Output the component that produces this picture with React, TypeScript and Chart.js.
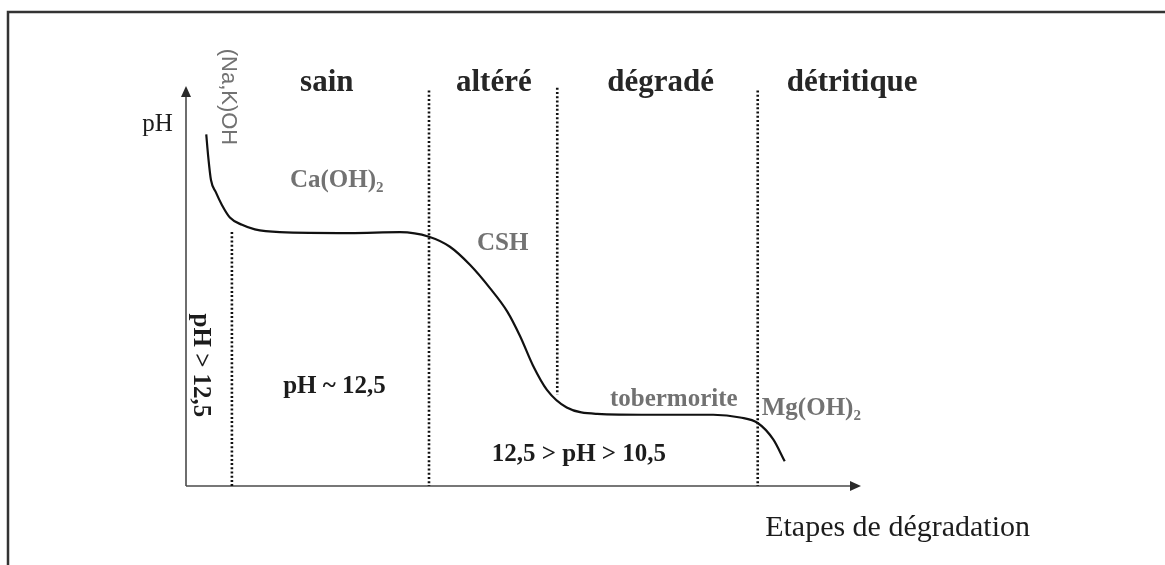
import React, { useEffect, useRef } from "react";
import { Chart, registerables } from "chart.js";

Chart.register(...registerables);

// Degradation stage axis (arbitrary units, 0..100) and pH of the pore solution
const stageX = [3.0, 3.3, 3.7, 4.4, 5.3, 6.5, 8.3, 10.2, 13.9, 24.3, 31.7, 36.0, 39.1, 42.1, 45.0, 47.6, 49.5, 51.4, 53.5, 56.4, 60.9, 68.7, 78.1, 82.1, 84.7, 87.0, 88.7];
const phValues = [13.57, 13.32, 13.07, 12.94, 12.8, 12.66, 12.58, 12.53, 12.5, 12.49, 12.5, 12.45, 12.34, 12.14, 11.89, 11.63, 11.36, 11.04, 10.77, 10.58, 10.51, 10.5, 10.5, 10.47, 10.41, 10.23, 9.99];

// Stage boundaries (dotted verticals): position, top and bottom pH
const boundaryX = [6.8, 36.0, 55.0, 84.7];
const boundaryTop = [12.5, 14.05, 14.08, 14.05];
const boundaryBottom = [9.72, 9.72, 10.72, 9.72];

// Stage names along the top
const stageNames = ["sain", "altéré", "dégradé", "détritique"];
const stageNameX = [16.9, 40.0, 62.4, 89.0];

const X_MIN = 0;
const X_MAX = 100;
const Y_MIN = 9.72;
const Y_MAX = 14.1;

const SERIF = '"Liberation Serif", "Times New Roman", serif';
const SANS = '"Liberation Sans", Arial, sans-serif';
const BLACK = "#1c1c1c";
const GREY = "#727272";

type Label = {
  text: string;
  sub?: string;
  x: number;
  y: number;
  font: string;
  color: string;
  rotate?: boolean;
};

const labels: Label[] = [
  { text: "pH", x: -6.5, y: 13.61, font: `25px ${SERIF}`, color: BLACK },
  { text: "(Na,K)OH", x: 6.2, y: 13.98, font: `22px ${SANS}`, color: GREY, rotate: true },
  { text: "Ca(OH)", sub: "2", x: 15.4, y: 12.99, font: `bold 25px ${SERIF}`, color: GREY },
  { text: "CSH", x: 43.1, y: 12.3, font: `bold 25px ${SERIF}`, color: GREY },
  { text: "tobermorite", x: 62.8, y: 10.6, font: `bold 25px ${SERIF}`, color: GREY },
  { text: "Mg(OH)", sub: "2", x: 85.3, y: 10.5, font: `bold 25px ${SERIF}`, color: GREY },
  { text: "pH > 12,5", x: 2.2, y: 11.04, font: `bold 25px ${SERIF}`, color: BLACK, rotate: true },
  { text: "pH ~ 12,5", x: 14.4, y: 10.74, font: `bold 25px ${SERIF}`, color: BLACK },
  { text: "12,5 > pH > 10,5", x: 45.3, y: 9.99, font: `bold 25px ${SERIF}`, color: BLACK },
  { text: "Etapes de dégradation", x: 85.8, y: 9.17, font: `30px ${SERIF}`, color: BLACK },
];

const decorPlugin = {
  id: "decor",
  beforeDraw(chart: any) {
    const { ctx, width, height } = chart;
    ctx.save();
    ctx.fillStyle = "#ffffff";
    ctx.fillRect(0, 0, width, height);
    // outer frame (top and left edges)
    ctx.strokeStyle = "#333333";
    ctx.lineWidth = 2.5;
    ctx.beginPath();
    ctx.moveTo(width, 12);
    ctx.lineTo(8, 12);
    ctx.lineTo(8, height);
    ctx.stroke();
    ctx.restore();
  },
  beforeDatasetsDraw(chart: any) {
    const { ctx, chartArea } = chart;
    const { left, right, top, bottom } = chartArea;
    ctx.save();
    ctx.strokeStyle = "#4a4a4a";
    ctx.fillStyle = "#2a2a2a";
    ctx.lineWidth = 1.6;
    // y axis with arrow
    ctx.beginPath();
    ctx.moveTo(left, bottom);
    ctx.lineTo(left, top + 6);
    ctx.stroke();
    ctx.beginPath();
    ctx.moveTo(left, top);
    ctx.lineTo(left - 5, top + 11);
    ctx.lineTo(left + 5, top + 11);
    ctx.closePath();
    ctx.fill();
    // x axis with arrow
    ctx.beginPath();
    ctx.moveTo(left, bottom);
    ctx.lineTo(right - 6, bottom);
    ctx.stroke();
    ctx.beginPath();
    ctx.moveTo(right, bottom);
    ctx.lineTo(right - 11, bottom - 5);
    ctx.lineTo(right - 11, bottom + 5);
    ctx.closePath();
    ctx.fill();
    ctx.restore();
  },
  afterDraw(chart: any) {
    const { ctx } = chart;
    const xs = chart.scales.x;
    const ys = chart.scales.y;
    ctx.save();
    // stage names
    ctx.font = `bold 31px ${SERIF}`;
    ctx.fillStyle = "#262626";
    ctx.textAlign = "left";
    ctx.textBaseline = "alphabetic";
    stageNames.forEach((name, i) => {
      ctx.fillText(name, xs.getPixelForValue(stageNameX[i]), ys.getPixelForValue(14.05));
    });
    // chemistry and pH annotations
    labels.forEach((l) => {
      const px = xs.getPixelForValue(l.x);
      const py = ys.getPixelForValue(l.y);
      ctx.save();
      ctx.fillStyle = l.color;
      ctx.font = l.font;
      if (l.rotate) {
        ctx.translate(px, py);
        ctx.rotate(Math.PI / 2);
        ctx.textAlign = "center";
        ctx.textBaseline = "middle";
        ctx.fillText(l.text, 0, 0);
      } else {
        ctx.textAlign = "left";
        ctx.textBaseline = "alphabetic";
        ctx.fillText(l.text, px, py);
        if (l.sub) {
          const w = ctx.measureText(l.text).width;
          ctx.font = `bold 15px ${SERIF}`;
          ctx.fillText(l.sub, px + w, py + 5);
        }
      }
      ctx.restore();
    });
    ctx.restore();
  },
};

export default function App() {
  const canvasRef = useRef<HTMLCanvasElement | null>(null);

  useEffect(() => {
    if (!canvasRef.current) return;
    const curve = stageX.map((x, i) => ({ x, y: phValues[i] }));
    const boundaries = boundaryX.map((x, i) => ({
      type: "line" as const,
      data: [
        { x, y: boundaryTop[i] },
        { x, y: boundaryBottom[i] },
      ],
      borderColor: "#111111",
      borderWidth: 2.6,
      borderDash: [2, 2.2],
      borderCapStyle: "butt",
      pointRadius: 0,
      fill: false,
      tension: 0,
    }));

    const chart = new Chart(canvasRef.current, {
      type: "line",
      data: {
        datasets: [
          {
            data: curve,
            borderColor: "#111111",
            borderWidth: 2.2,
            pointRadius: 0,
            fill: false,
            cubicInterpolationMode: "monotone",
          },
          ...boundaries,
        ],
      },
      options: {
        responsive: false,
        animation: false,
        events: [],
        layout: { padding: { left: 186, right: 304, top: 86, bottom: 79 } },
        scales: {
          x: { type: "linear", min: X_MIN, max: X_MAX, display: false },
          y: { type: "linear", min: Y_MIN, max: Y_MAX, display: false },
        },
        plugins: {
          legend: { display: false },
          tooltip: { enabled: false },
        },
      },
      plugins: [decorPlugin],
    } as any);
    return () => chart.destroy();
  }, []);

  return (
    <canvas
      ref={canvasRef}
      width={1165}
      height={565}
      style={{ position: "fixed", left: 0, top: 0, width: 1165, height: 565 }}
    />
  );
}
